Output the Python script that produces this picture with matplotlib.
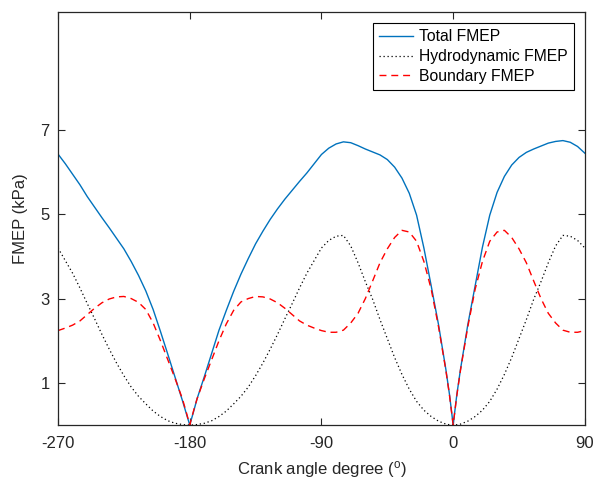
import matplotlib
matplotlib.use("Agg")
import matplotlib.pyplot as plt

plt.rcParams['font.family'] = ['Liberation Sans', 'DejaVu Sans']
plt.rcParams['mathtext.fontset'] = 'custom'
plt.rcParams['mathtext.rm'] = 'Liberation Sans'
plt.rcParams['mathtext.it'] = 'Liberation Sans'
plt.rcParams['axes.unicode_minus'] = False

# crank angle grid (deg), extra points near the cusps at -180 and 0
angle = [-270, -265, -260, -255, -250, -245, -240, -235, -230, -225,
         -220, -215, -210, -205, -200, -195, -190, -185, -182.5, -180,
         -177.5, -175, -170, -165, -160, -155, -150, -145, -140, -135,
         -130, -125, -120, -115, -110, -105, -100, -95, -90, -85,
         -80, -75, -70, -65, -60, -55, -50, -45, -40, -35,
         -30, -25, -20, -15, -10, -5, -2.5, 0, 2.5, 5,
         10, 15, 20, 25, 30, 35, 40, 45, 50, 55,
         60, 65, 70, 75, 80, 85, 90]

total = [6.43, 6.20, 5.95, 5.70, 5.42, 5.17, 4.92, 4.68, 4.43, 4.18,
         3.88, 3.55, 3.18, 2.74, 2.22, 1.68, 1.13, 0.58, 0.29, 0.0,
         0.30, 0.62, 1.15, 1.70, 2.25, 2.72, 3.17, 3.58, 3.95, 4.30,
         4.60, 4.88, 5.13, 5.36, 5.57, 5.78, 5.98, 6.20, 6.42, 6.57,
         6.67, 6.72, 6.70, 6.63, 6.55, 6.48, 6.41, 6.30, 6.12, 5.86,
         5.50, 4.98, 4.20, 3.30, 2.38, 1.32, 0.72, 0.0, 0.72, 1.32,
         2.38, 3.30, 4.22, 4.98, 5.52, 5.90, 6.17, 6.35, 6.47, 6.55,
         6.62, 6.69, 6.73, 6.75, 6.71, 6.61, 6.45]

hydro = [4.20, 3.90, 3.60, 3.25, 2.88, 2.52, 2.15, 1.80, 1.47, 1.17,
         0.90, 0.68, 0.50, 0.33, 0.20, 0.10, 0.04, 0.01, 0.0, 0.0,
         0.0, 0.01, 0.04, 0.10, 0.20, 0.33, 0.50, 0.68, 0.90, 1.17,
         1.47, 1.80, 2.15, 2.52, 2.88, 3.25, 3.60, 3.90, 4.20, 4.38,
         4.48, 4.50, 4.25, 3.85, 3.40, 2.98, 2.50, 2.05, 1.60, 1.20,
         0.85, 0.56, 0.35, 0.20, 0.09, 0.02, 0.005, 0.0, 0.005, 0.02,
         0.09, 0.20, 0.35, 0.56, 0.85, 1.20, 1.60, 2.05, 2.50, 2.98,
         3.40, 3.85, 4.25, 4.50, 4.48, 4.38, 4.20]

boundary = [2.24, 2.30, 2.37, 2.47, 2.62, 2.77, 2.90, 2.99, 3.04, 3.05,
            3.00, 2.91, 2.74, 2.42, 2.00, 1.55, 1.10, 0.62, 0.32, 0.0,
            0.32, 0.62, 1.10, 1.55, 2.00, 2.40, 2.72, 2.92, 3.00, 3.05,
            3.04, 2.99, 2.90, 2.77, 2.62, 2.47, 2.37, 2.30, 2.24, 2.20,
            2.20, 2.25, 2.42, 2.65, 3.00, 3.42, 3.85, 4.18, 4.45, 4.62,
            4.58, 4.36, 3.88, 3.22, 2.33, 1.30, 0.70, 0.0, 0.70, 1.30,
            2.33, 3.22, 3.88, 4.36, 4.58, 4.62, 4.45, 4.18, 3.85, 3.42,
            3.00, 2.65, 2.42, 2.25, 2.20, 2.20, 2.24]

xticks = [-270, -180, -90, 0, 90]
yticks = [1, 3, 5, 7]

fig = plt.figure(figsize=(5.95, 4.84), dpi=100)
ax = fig.add_axes([0.0975, 0.122, 0.8855, 0.853])

ax.plot(angle, total, color='#0072BD', lw=1.0, label='Total FMEP')
ax.plot(angle, hydro, color='black', lw=0.9, dashes=(1, 2.2), label='Hydrodynamic FMEP')
ax.plot(angle, boundary, color='#FF0000', lw=1.0, dashes=(5, 3.5), label='Boundary FMEP')

ax.set_xlim(-270, 90)
ax.set_ylim(0, 9.8)
ax.set_xticks(xticks)
ax.set_yticks(yticks)
ax.tick_params(axis='x', pad=8)
ax.tick_params(direction='in', top=True, right=True, length=5, width=0.8,
               labelsize=12, colors='#262626')
ax.tick_params(axis='y', pad=6)
for s in ax.spines.values():
    s.set_linewidth(0.9)
    s.set_color('#262626')

ax.set_xlabel(r'Crank angle degree ($^{\mathrm{o}}$)', fontsize=12, color='#262626', labelpad=6)
ax.set_ylabel('FMEP (kPa)', fontsize=12, color='#262626', labelpad=9)

leg = ax.legend(loc='upper right', fontsize=11.3, frameon=True, fancybox=False,
                edgecolor='black', framealpha=1, handlelength=2.2,
                borderpad=0.4, labelspacing=0.3, handletextpad=0.35,
                borderaxespad=0.7)
leg.get_frame().set_linewidth(0.8)

fig.savefig('out.png', dpi=100)
